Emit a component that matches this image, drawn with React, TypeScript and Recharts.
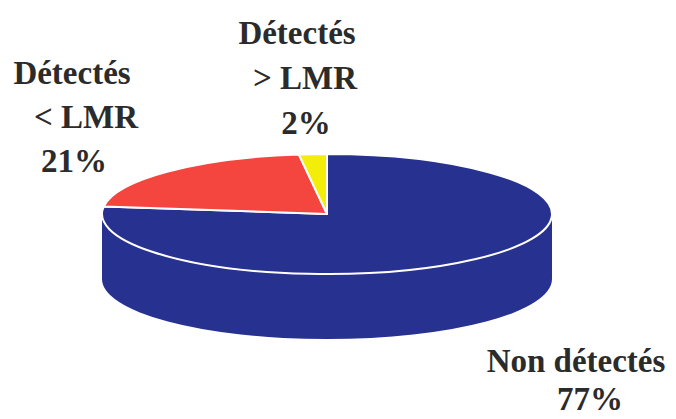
import { PieChart, Pie, Cell } from "recharts";

const categories = ["Non détectés", "Détectés < LMR", "Détectés > LMR"];
const shares = [77, 21, 2];
const labelLines = [["Non détectés"], ["Détectés", "< LMR"], ["Détectés", "> LMR"]];
const colors = ["#27318f", "#f4463f", "#f2ee0a"];

// where each label block sits (centre x per line, first baseline, line step)
const labelLayout = [
  { xs: [576, 590], y: 372, step: 38 },
  { xs: [72, 86, 74], y: 84, step: 44 },
  { xs: [297, 305, 306], y: 44, step: 45 },
];

const data = categories.map((name, i) => ({ name, value: shares[i] }));

const TILT = 0.267; // ry / rx
const DEPTH = 65;

function pt(cx: number, cy: number, rx: number, ry: number, deg: number) {
  const r = (deg * Math.PI) / 180;
  return [cx + rx * Math.cos(r), cy - ry * Math.sin(r)];
}

function Slice3D(props: any) {
  const { cx, cy, outerRadius, startAngle, endAngle, fill } = props;
  const rx = outerRadius;
  const ry = outerRadius * TILT;
  const lo = Math.min(startAngle, endAngle);
  const hi = Math.max(startAngle, endAngle);

  // front wall: the part of the slice that lies between 180 and 360 degrees
  const walls: string[] = [];
  for (let k = -2; k <= 1; k++) {
    const s = Math.max(lo, 180 + 360 * k);
    const e = Math.min(hi, 360 + 360 * k);
    if (e - s > 0.01) {
      const [x1, y1] = pt(cx, cy, rx, ry, s);
      const [x2, y2] = pt(cx, cy, rx, ry, e);
      walls.push(
        `M${x1},${y1} A${rx},${ry} 0 0 0 ${x2},${y2} L${x2},${y2 + DEPTH} A${rx},${ry} 0 0 1 ${x1},${y1 + DEPTH} Z`
      );
    }
  }

  const [sx, sy] = pt(cx, cy, rx, ry, startAngle);
  const [ex, ey] = pt(cx, cy, rx, ry, endAngle);
  const large = hi - lo > 180 ? 1 : 0;
  const sweep = startAngle > endAngle ? 1 : 0;
  const top = `M${cx},${cy} L${sx},${sy} A${rx},${ry} 0 ${large} ${sweep} ${ex},${ey} Z`;

  return (
    <g>
      {walls.map((d, i) => (
        <path key={i} d={d} fill={fill} stroke="none" />
      ))}
      <path d={top} fill={fill} stroke="#ffffff" strokeWidth={2} strokeLinejoin="round" />
    </g>
  );
}

function Labels() {
  return (
    <svg width={676} height={419} style={{ position: "absolute", left: 0, top: 0, pointerEvents: "none" }}>
      {categories.map((name, i) => {
        const lay = labelLayout[i];
        const lines = [...labelLines[i], `${shares[i]}%`];
        return (
          <g key={name}>
            {lines.map((t, j) => (
              <text
                key={j}
                x={lay.xs[j]}
                y={lay.y + j * lay.step}
                textAnchor="middle"
                style={{
                  fontFamily: '"Liberation Serif"',
                  fontWeight: 700,
                  fontSize: 33,
                  fill: "#2b2b2b",
                }}
              >
                {t}
              </text>
            ))}
          </g>
        );
      })}
    </svg>
  );
}

export default function App() {
  return (
    <div style={{ position: "absolute", left: 0, top: 0, width: 676, height: 419, background: "#fff" }}>
      <PieChart width={676} height={419} margin={{ top: 0, right: 0, bottom: 0, left: 0 }}>
        <Pie
          data={data}
          dataKey="value"
          nameKey="name"
          cx={327}
          cy={214}
          outerRadius={225}
          startAngle={90}
          endAngle={-270}
          shape={Slice3D}
          label={false}
          labelLine={false}
          isAnimationActive={false}
        >
          {data.map((d, i) => (
            <Cell key={d.name} fill={colors[i]} />
          ))}
        </Pie>
      </PieChart>
      <Labels />
    </div>
  );
}
